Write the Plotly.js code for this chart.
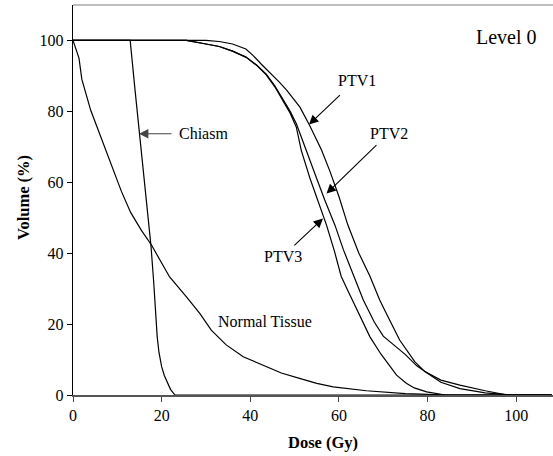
<!DOCTYPE html>
<html>
<head>
<meta charset="utf-8">
<script src="https://cdn.plot.ly/plotly-3.0.1.min.js"></script>
<style>html,body{margin:0;padding:0;background:#fff;}#chart{width:553px;height:456px;}</style>
</head>
<body>
<div id="chart"></div>
<script>
// Dose (Gy) / Volume (%)
const chiasmDose = [0, 12.9, 14.0, 15.0, 16.0, 16.8, 17.6, 18.2, 18.6, 19.0, 19.4, 20.0, 20.6, 21.2, 22.0, 23.0, 108];
const chiasmVol  = [100, 100, 86, 73.5, 61, 51, 42, 32, 24, 16.4, 12, 8, 5.5, 3.8, 1.6, 0, 0];

const normalDose = [0, 0.6, 1.35, 2.0, 3.0, 4.0, 5.3, 6.5, 7.85, 9.8, 10.9, 13.0, 15.4, 17.7, 19.8, 21.8, 25.6, 28.6, 31.2, 34.5, 38.4, 43.6, 47.0, 51.1, 55.0, 58.7, 66.2, 75.0, 85.0, 108];
const normalVol  = [100, 98, 95, 89, 84.5, 80.3, 76, 72, 67.5, 61, 57.5, 51.5, 46.5, 42.3, 37.5, 33.3, 27.7, 23, 18.3, 14.2, 10.8, 8, 6.2, 4.7, 3.3, 2.3, 1.2, 0.4, 0, 0];

const ptv1Dose = [0, 30, 33, 36, 39, 40.6, 42.5, 44.4, 46.5, 48.2, 50.0, 51.2, 53.4, 55.0, 56.1, 58.0, 60.0, 62.0, 64.5, 67.0, 69.2, 70.7, 73.7, 77.1, 79.4, 83.0, 87.3, 93.0, 97.0, 99.0, 108];
const ptv1Vol  = [100, 100, 99.7, 99, 97.6, 95.8, 93.3, 91, 88.3, 86, 83, 81.2, 76, 72, 69, 63, 56, 48, 40, 33.5, 26.8, 23, 15.5, 9.4, 6.6, 3.6, 1.8, 0.6, 0.2, 0, 0];

const ptv2Dose = [0, 25.6, 30, 33, 36, 39, 41.5, 43.6, 45.5, 47.4, 49.0, 50.4, 52.7, 55.0, 56.8, 59.1, 61.0, 63.2, 65.5, 68.0, 70.0, 72.5, 75.0, 77.5, 79.4, 83.0, 87.3, 93.0, 98.0, 108];
const ptv2Vol  = [100, 100, 99, 98.3, 97, 95.3, 93, 90.5, 87.3, 83.5, 80, 76.5, 69, 61, 55, 47.9, 41, 34, 26.8, 20.5, 16.6, 14, 11.4, 8.3, 6.6, 4.2, 2.8, 1.2, 0, 0];

const ptv3Dose = [0, 25.6, 30, 33, 36, 39, 41.5, 43.6, 45.5, 47.4, 49.0, 50.4, 51.5, 53.5, 55.5, 57.2, 59.0, 60.5, 62.0, 63.5, 65.5, 67.0, 69.5, 71.5, 73.0, 75.2, 77.0, 79.8, 82.5, 84.0, 108];
const ptv3Vol  = [100, 100, 99, 98.3, 97, 95.3, 92.9, 90.3, 87, 83, 79.5, 75.5, 69, 61, 54, 47.9, 40.5, 33.5, 29.5, 25.5, 20, 16.4, 11.5, 8, 5.6, 3.3, 2, 0.9, 0.2, 0, 0];

const xTicks = [0, 20, 40, 60, 80, 100];
const yTicks = [0, 20, 40, 60, 80, 100];

const FONT = "Liberation Serif, Times New Roman, serif";
function curve(x, y, name) {
  return {x: x, y: y, name: name, type: 'scatter', mode: 'lines',
          line: {color: '#000', width: 1.2}, hoverinfo: 'skip'};
}
const data = [
  curve(normalDose, normalVol, 'Normal Tissue'),
  curve(chiasmDose, chiasmVol, 'Chiasm'),
  curve(ptv3Dose, ptv3Vol, 'PTV3'),
  curve(ptv2Dose, ptv2Vol, 'PTV2'),
  curve(ptv1Dose, ptv1Vol, 'PTV1')
];

function label(x, y, text, size) {
  return {x: x, y: y, xref: 'x', yref: 'y', text: text, showarrow: false,
          font: {family: FONT, size: size || 16, color: '#000'}, xanchor: 'center', yanchor: 'middle'};
}
function arrow(tx, ty, ax, ay, color) {
  return {x: tx, y: ty, ax: ax, ay: ay, xref: 'x', yref: 'y', axref: 'x', ayref: 'y',
          text: '', showarrow: true, arrowhead: 2, arrowsize: 1.7, arrowwidth: 1.1,
          arrowcolor: color || '#000', standoff: 0, startstandoff: 0};
}

const layout = {
  width: 553, height: 456,
  margin: {l: 73, r: 0, t: 5, b: 61},
  paper_bgcolor: '#fff', plot_bgcolor: '#fff',
  showlegend: false,
  font: {family: FONT, size: 16, color: '#000'},
  xaxis: {
    range: [0, 108.3], tickvals: xTicks, ticktext: xTicks.map(String),
    ticks: 'outside', ticklen: 5, tickwidth: 1, tickcolor: '#444',
    showline: true, linecolor: '#555', linewidth: 2,
    showgrid: false, zeroline: false,
    tickfont: {family: FONT, size: 16, color: '#000'}
  },
  yaxis: {
    range: [0, 110], tickvals: yTicks, ticktext: yTicks.map(String),
    ticks: 'outside', ticklen: 5, tickwidth: 1, tickcolor: '#000',
    showline: true, linecolor: '#000', linewidth: 1.2,
    showgrid: false, zeroline: false,
    tickfont: {family: FONT, size: 16, color: '#000'}
  },
  shapes: [
    {type: 'line', xref: 'paper', yref: 'paper', x0: 0, x1: 1, y0: 1, y1: 1,
     line: {color: '#aaa', width: 1.5}}
  ],
  annotations: [
    label(97.7, 101.1, 'Level 0', 20),
    label(29.45, 73.7, 'Chiasm'),
    arrow(14.9, 73.7, 22.55, 73.7, '#444'),
    label(64.1, 88.7, 'PTV1'),
    arrow(53.25, 76.3, 60.56, 85.0),
    label(71.2, 73.7, 'PTV2'),
    arrow(57.2, 56.8, 68.8, 70.9),
    label(47.3, 39.2, 'PTV3'),
    arrow(56.4, 49.8, 49.6, 41.8),
    label(43.3, 20.6, 'Normal Tissue'),
    {x: (323.3 - 73) / 480, y: -(442.7 - 395) / 390, xref: 'paper', yref: 'paper',
     text: '<b>Dose (Gy)</b>', showarrow: false, xanchor: 'center', yanchor: 'middle',
     font: {family: FONT, size: 16.5, color: '#000'}},
    {x: -(73 - 23) / 480, y: (395 - 198) / 390, xref: 'paper', yref: 'paper',
     text: '<b>Volume (%)</b>', showarrow: false, textangle: -90, xanchor: 'center', yanchor: 'middle',
     font: {family: FONT, size: 16.5, color: '#000'}}
  ]
};

Plotly.newPlot('chart', data, layout, {staticPlot: true, displayModeBar: false});
</script>
</body>
</html>
